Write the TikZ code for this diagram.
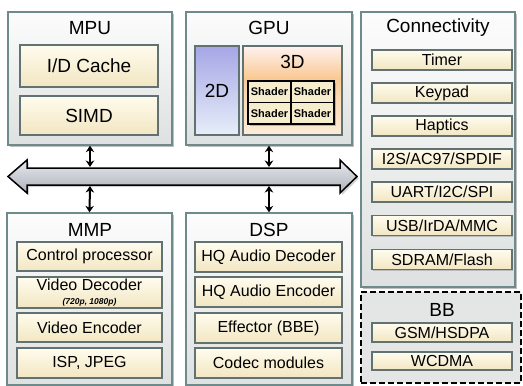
\documentclass[tikz,border=0pt]{standalone}
\usepackage{fontspec}
\setmainfont{Liberation Sans}
\usetikzlibrary{shadows,arrows.meta}

\definecolor{frameC}{HTML}{6F8A8A}
\definecolor{panelTop}{HTML}{FCFCFC}
\definecolor{panelBot}{HTML}{DEE1E1}
\definecolor{itemTop}{HTML}{FFFCEE}
\definecolor{itemBot}{HTML}{F2E6C2}
\definecolor{itemEdge}{HTML}{627272}
\definecolor{twoTop}{HTML}{A6A6E6}
\definecolor{twoBot}{HTML}{E6EEF8}
\definecolor{threeTop}{HTML}{FFF2F0}
\definecolor{threeMid}{HTML}{F9C993}
\definecolor{threeBot}{HTML}{FDEBD8}
\definecolor{busTop}{HTML}{E6E8EE}
\definecolor{busBot}{HTML}{AEB2BA}
\definecolor{bbFill}{HTML}{E4E5E5}

% 3D block: pale at the top, orange band just above the shader grid
% (the path spans 25bp..75bp of the shading)
\pgfdeclareverticalshading{threeDshade}{100bp}{%
  color(0bp)=(threeBot); color(25bp)=(threeBot); color(45bp)=(threeBot!50!threeMid);
  color(57bp)=(threeMid); color(75bp)=(threeTop); color(100bp)=(threeTop)}

\tikzset{
  panel/.style={draw=frameC, line width=1.4pt, top color=panelTop, bottom color=panelBot,
    drop shadow={shadow xshift=2pt, shadow yshift=-2pt, opacity=.5}, inner sep=0pt},
  title/.style={font=\fontsize{19}{21}\selectfont, inner sep=0pt},
  item/.style={draw=itemEdge, line width=1.4pt, top color=itemTop, bottom color=itemBot,
    drop shadow={shadow xshift=1pt, shadow yshift=-1pt, opacity=.4},
    font=\fontsize{16}{17}\selectfont, inner sep=0pt, align=center},
  bigitem/.style={item, font=\fontsize{19}{21}\selectfont},
  shadercell/.style={draw=black, line width=1.4pt, fill=itemBot!70!itemTop,
    font=\fontsize{11}{12}\selectfont\bfseries, inner sep=0pt,
    minimum width=43pt, minimum height=21.5pt},
  link/.style={line width=2pt, {Stealth[length=6.5pt,width=8.5pt]}-{Stealth[length=6.5pt,width=8.5pt]}}
}

\begin{document}
\begin{tikzpicture}[x=1pt,y=-1pt]
\useasboundingbox (0,0) rectangle (523,386);

% ---- top row: MPU, GPU ----
\node[panel, minimum width=164pt, minimum height=133pt] (mpu) at (90,78.5) {};
\node[title] (mpuT) at (90,28) {MPU};
\node[bigitem, minimum width=138pt, minimum height=42pt] (cache) at (89,66) {I/D Cache};
\node[bigitem, minimum width=138pt, minimum height=39pt] (simd) at (89,115.5) {SIMD};

\node[panel, minimum width=166pt, minimum height=133pt] (gpu) at (269,78.5) {};
\node[title] (gpuT) at (269,28) {GPU};
\node[draw=itemEdge, line width=1.4pt, top color=twoTop, bottom color=twoBot,
  drop shadow={shadow xshift=1pt, shadow yshift=-1pt, opacity=.4},
  minimum width=44pt, minimum height=89pt, inner sep=0pt,
  font=\fontsize{19}{21}\selectfont] (twoD) at (217,90.5) {2D};
\node[draw=itemEdge, line width=1.4pt, shading=threeDshade,
  drop shadow={shadow xshift=1pt, shadow yshift=-1pt, opacity=.4},
  minimum width=99pt, minimum height=89pt, inner sep=0pt] (threeD) at (292.5,90.5) {};
\node[title] (threeDT) at (292.5,62) {3D};
\node[draw=black, line width=2pt, minimum width=86pt, minimum height=43pt, inner sep=0pt,
  fill=itemBot, drop shadow={shadow xshift=1.5pt, shadow yshift=-1.5pt, opacity=.5}] (grid) at (291,102.5) {};
\node[shadercell] (sh1) at (269.5,91.75) {Shader};
\node[shadercell] (sh2) at (312.5,91.75) {Shader};
\node[shadercell] (sh3) at (269.5,113.25) {Shader};
\node[shadercell] (sh4) at (312.5,113.25) {Shader};

% ---- right column: Connectivity ----
\node[panel, minimum width=154pt, minimum height=275pt] (conn) at (438,149.5) {};
\node[title] (connT) at (438,28) {Connectivity};
\foreach \name/\txt/\yy in {timer/Timer/60, keypad/Keypad/93, haptics/Haptics/126,
    i2s/I2S\slash AC97\slash SPDIF/159, uart/UART\slash I2C\slash SPI/192,
    usb/USB\slash IrDA\slash MMC/225.5, sdram/SDRAM\slash Flash/259.5}
  \node[item, minimum width=140pt, minimum height=20pt] (\name) at (442,\yy) {\txt};

% ---- baseband (dashed) ----
\node[draw=black, dashed, dash pattern=on 6pt off 3pt, line width=1.5pt, fill=bbFill,
  minimum width=160pt, minimum height=91pt, inner sep=0pt] (bb) at (441,337.5) {};
\node[title] (bbT) at (442,310) {BB};
\node[item, minimum width=140pt, minimum height=19pt] (gsm) at (442,332.5) {GSM/HSDPA};
\node[item, minimum width=140pt, minimum height=18pt] (wcdma) at (442,361) {WCDMA};

% ---- bottom row: MMP, DSP ----
\node[panel, minimum width=165pt, minimum height=172pt] (mmp) at (89.5,299) {};
\node[title] (mmpT) at (90,230) {MMP};
\node[item, minimum width=145pt, minimum height=29pt] (ctrl) at (89.5,256.5) {Control processor};
\node[item, minimum width=145pt, minimum height=31pt] (vdec) at (89.5,292.5)
  {Video Decoder\\[-3pt]{\fontsize{8.5}{9}\selectfont\bfseries\itshape (720p, 1080p)}};
\node[item, minimum width=145pt, minimum height=29pt] (venc) at (89.5,327.5) {Video Encoder};
\node[item, minimum width=145pt, minimum height=30pt] (isp) at (89.5,363) {ISP, JPEG};

\node[panel, minimum width=166pt, minimum height=172pt] (dsp) at (269,299) {};
\node[title] (dspT) at (269,230) {DSP};
\node[item, minimum width=147pt, minimum height=30pt] (adec) at (268.5,257) {HQ Audio Decoder};
\node[item, minimum width=147pt, minimum height=30pt] (aenc) at (268.5,292) {HQ Audio Encoder};
\node[item, minimum width=147pt, minimum height=30pt] (eff) at (268.5,328) {Effector (BBE)};
\node[item, minimum width=147pt, minimum height=30pt] (codec) at (268.5,363) {Codec modules};

% ---- system bus ----
\path[draw=black, line width=1.5pt, line join=miter, top color=busTop, bottom color=busBot,
  drop shadow={shadow xshift=2pt, shadow yshift=-2pt, opacity=.35}]
  (8,176.5) -- (27,160) -- (27,168) -- (340,168) -- (340,160) -- (357,176.5)
  -- (340,193) -- (340,185) -- (27,185) -- (27,193) -- cycle;
\coordinate (busMpu) at (90,167);
\coordinate (busGpu) at (269,167);
\coordinate (busMmp) at (90,186);
\coordinate (busDsp) at (269,186);

\draw[link] (mpu.south) -- (busMpu);
\draw[link] (gpu.south) -- (busGpu);
\draw[link] (busMmp) -- (mmp.north);
\draw[link] (busDsp) -- (dsp.north);
\end{tikzpicture}
\end{document}
